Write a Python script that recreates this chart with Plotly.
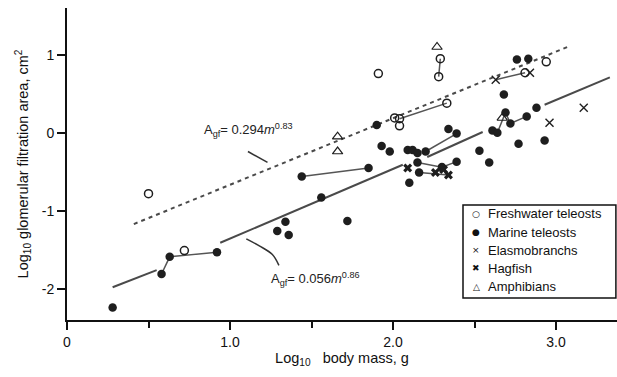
import plotly.graph_objects as go

# ---------------- data (log10 body mass, log10 glomerular filtration area) -------------
fresh_x = [0.50, 0.72, 1.91, 2.29, 2.28, 2.33, 2.01, 2.04, 2.04, 2.81, 2.94]
fresh_y = [-0.78, -1.51, 0.76, 0.95, 0.72, 0.38, 0.19, 0.18, 0.09, 0.77, 0.91]

marine_x = [0.28, 0.58, 0.63, 0.92, 1.29, 1.34, 1.36, 1.44, 1.56, 1.72, 1.85, 1.90,
            1.93, 1.98, 2.09, 2.12, 2.15, 2.20, 2.15, 2.16, 2.10, 2.34, 2.39, 2.39,
            2.30, 2.53, 2.59, 2.61, 2.64, 2.68, 2.69, 2.72, 2.82, 2.77, 2.88, 2.93,
            2.76, 2.83]
marine_y = [-2.24, -1.81, -1.59, -1.53, -1.26, -1.14, -1.31, -0.56, -0.83, -1.13, -0.45, 0.10,
            -0.17, -0.24, -0.22, -0.22, -0.26, -0.24, -0.38, -0.51, -0.64, 0.05, -0.01, -0.37,
            -0.44, -0.23, -0.38, 0.03, 0.00, 0.49, 0.26, 0.12, 0.21, -0.14, 0.32, -0.10,
            0.94, 0.95]

elasmo_x = [2.63, 2.84, 2.96, 3.17]
elasmo_y = [0.68, 0.77, 0.13, 0.32]

hag_x = [2.09, 2.26, 2.31, 2.34]
hag_y = [-0.45, -0.51, -0.47, -0.54]

amph_x = [2.27, 1.66, 1.66, 2.67]
amph_y = [1.10, -0.05, -0.24, 0.19]

# connecting lines between related points (None = break)
conn_x = [0.58, 0.63, 0.92, None, 1.44, 1.85, None, 2.20, 2.39, None, 2.29, 2.28, None,
          2.04, 2.33, None, 2.63, 2.81, None, 2.15, 2.30, 2.39, None, 2.16, 2.34, None,
          2.64, 2.69, 2.72, 2.82]
conn_y = [-1.81, -1.59, -1.53, None, -0.56, -0.45, None, -0.24, -0.01, None, 0.95, 0.72, None,
          0.18, 0.38, None, 0.68, 0.77, None, -0.38, -0.44, -0.37, None, -0.51, -0.54, None,
          0.00, 0.26, 0.12, 0.21]

# fitted allometric lines
marine_fit_x = [0.28, 0.55, None, 0.94, 2.06, None, 2.21, 2.55, None, 2.93, 3.33]
marine_fit_y = [-1.98, -1.76, None, -1.41, -0.41, None, -0.31, 0.01, None, 0.36, 0.71]
fresh_fit_x = [0.41, 3.07]
fresh_fit_y = [-1.17, 1.10]

# leader lines for the equations
lead1_x = [1.11, 1.23]
lead1_y = [-0.24, -0.38]
lead2_x = [1.10, 1.18, 1.26, 1.30]
lead2_y = [-1.36, -1.45, -1.56, -1.70]

x_tickvals = [0, 1, 2, 3]
x_ticktext = ["0", "1.0", "2.0", "3.0"]
y_tickvals = [1, 0, -1, -2]
y_ticktext = ["1", "0", "-1", "-2"]

legend_names = ["Freshwater teleosts", "Marine teleosts", "Elasmobranchs", "Hagfish", "Amphibians"]
legend_glyphs = ["\u25CB", "\u25CF", "\u00D7", "\u2716", "\u25B3"]

FONT = "Arial, Liberation Sans, sans-serif"
INK = "#1e1e1e"

fig = go.Figure()

fig.add_trace(go.Scatter(x=fresh_fit_x, y=fresh_fit_y, mode="lines",
                         line=dict(color="#4a4a4a", width=2, dash="4px,4px"),
                         showlegend=False, hoverinfo="skip"))
fig.add_trace(go.Scatter(x=marine_fit_x, y=marine_fit_y, mode="lines",
                         line=dict(color="#4a4a4a", width=2),
                         showlegend=False, hoverinfo="skip"))
fig.add_trace(go.Scatter(x=conn_x, y=conn_y, mode="lines",
                         line=dict(color="#555555", width=1.5),
                         showlegend=False, hoverinfo="skip"))
fig.add_trace(go.Scatter(x=lead1_x, y=lead1_y, mode="lines",
                         line=dict(color="#333333", width=1.5),
                         showlegend=False, hoverinfo="skip"))
fig.add_trace(go.Scatter(x=lead2_x, y=lead2_y, mode="lines", line_shape="spline",
                         line=dict(color="#333333", width=1.5),
                         showlegend=False, hoverinfo="skip"))

fig.add_trace(go.Scatter(x=fresh_x, y=fresh_y, mode="markers", name=legend_names[0],
                         marker=dict(symbol="circle-open", size=8, color=INK,
                                     line=dict(width=1.5, color=INK))))
fig.add_trace(go.Scatter(x=marine_x, y=marine_y, mode="markers", name=legend_names[1],
                         marker=dict(symbol="circle", size=8.5, color=INK)))
fig.add_trace(go.Scatter(x=elasmo_x, y=elasmo_y, mode="markers", name=legend_names[2],
                         marker=dict(symbol="x-thin", size=8, color=INK,
                                     line=dict(width=1.4, color=INK))))
fig.add_trace(go.Scatter(x=hag_x, y=hag_y, mode="markers", name=legend_names[3],
                         marker=dict(symbol="x", size=8, color=INK)))
fig.add_trace(go.Scatter(x=amph_x, y=amph_y, mode="markers", name=legend_names[4],
                         marker=dict(symbol="triangle-up-open", size=9, color=INK,
                                     line=dict(width=1.2, color=INK))))

# equations
fig.add_annotation(x=0.83, y=0.04, xref="x", yref="y", xanchor="left", yanchor="middle",
                   text="A<sub>gf</sub>= 0.294<i>m</i><sup>0.83</sup>", showarrow=False,
                   font=dict(family=FONT, size=13, color="#222"))
fig.add_annotation(x=1.24, y=-1.88, xref="x", yref="y", xanchor="left", yanchor="middle",
                   text="A<sub>gf</sub>= 0.056<i>m</i><sup>0.86</sup>", showarrow=False,
                   font=dict(family=FONT, size=13, color="#222"))

# boxed key (drawn by hand so it can be as compact as in the original)
fig.add_shape(type="rect", xref="paper", yref="paper", x0=0.72, x1=0.998, y0=0.0705, y1=0.3686,
              line=dict(color="#111", width=1.5), fillcolor="white", layer="above")
row_y = [0.340, 0.282, 0.224, 0.166, 0.106]
for name, glyph, yy in zip(legend_names, legend_glyphs, row_y):
    fig.add_annotation(x=0.744, y=yy, xref="paper", yref="paper", xanchor="center",
                       yanchor="middle", text=glyph, showarrow=False,
                       font=dict(family="DejaVu Sans", size=9, color="#111"))
    fig.add_annotation(x=0.762, y=yy, xref="paper", yref="paper", xanchor="left",
                       yanchor="middle", text=name, showarrow=False,
                       font=dict(family=FONT, size=13, color="#111"))

fig.update_layout(
    width=617, height=377,
    margin=dict(l=67, r=0, t=8, b=57),
    paper_bgcolor="white", plot_bgcolor="white",
    font=dict(family=FONT, size=13, color="#111"),
    showlegend=False,
)
fig.update_xaxes(range=[0, 3.374], showline=True, linecolor="#111", linewidth=2,
                 showgrid=False, zeroline=False, ticks="outside", ticklen=8, tickwidth=2,
                 tickcolor="#111", tickvals=x_tickvals, ticktext=x_ticktext,
                 minor=dict(dtick=0.5, tick0=0, ticks="outside", ticklen=6, tickwidth=2,
                            tickcolor="#111", showgrid=False),
                 tickfont=dict(size=14), automargin=False,
                 title=dict(text="Log<sub>10</sub>&nbsp;&nbsp;&nbsp;body mass, g",
                            font=dict(size=14.5), standoff=4))
fig.update_yaxes(range=[-2.40, 1.60], showline=True, linecolor="#111", linewidth=2,
                 showgrid=False, zeroline=False, ticks="outside", ticklen=8, tickwidth=2,
                 tickcolor="#111", tickvals=y_tickvals, ticktext=y_ticktext,
                 tickfont=dict(size=14), automargin=False,
                 title=dict(text="Log<sub>10</sub> glomerular filtration area, cm<sup>2</sup>",
                            font=dict(size=14.5), standoff=10))

fig.write_html("out.html", config={"displayModeBar": False},
               post_script="document.body.style.margin='0';document.body.style.overflow='hidden';")
